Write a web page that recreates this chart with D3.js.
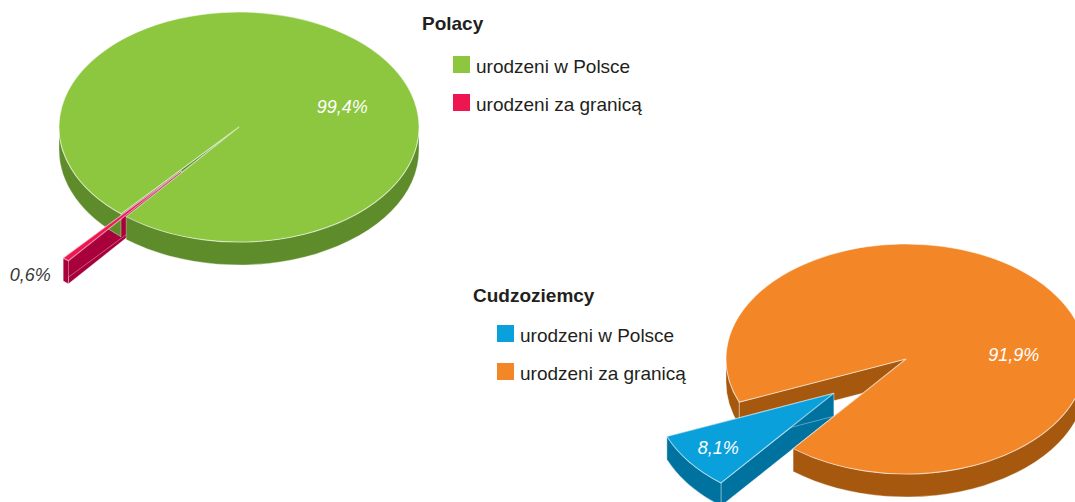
<!DOCTYPE html>
<html>
<head>
<meta charset="utf-8">
<script src="https://cdn.jsdelivr.net/npm/d3@7"></script>
<style>
  body { margin: 0; background: #fff; }
  svg { display: block; font-family: "Liberation Sans", Arial, sans-serif; }
</style>
</head>
<body>
<svg id="chart" width="1075" height="502"></svg>
<script>
// data
const categories = ["urodzeni w Polsce", "urodzeni za granicą"];
const groups = ["Polacy", "Cudzoziemcy"];
const polacyValues = [99.4, 0.6];
const cudzoziemcyValues = [8.1, 91.9];

// colours (top face / side face) per category
const polacyTop = ["#8DC63F", "#ED1651"];
const polacySide = ["#5E8C2B", "#A8003A"];
const cudzTop = ["#0AA0DC", "#F38626"];
const cudzSide = ["#00729F", "#A6580E"];

const RX = 180, RY = 115, DEPTH = 23, EXPLODE = 0.5;
const START = 218.8 * Math.PI / 180;

const locale = d3.formatLocale({decimal: ",", thousands: " ", grouping: [3], currency: ["", " zł"]});
const fmt = v => locale.format(".1f")(v) + "%";

const charts = [
  {title: groups[0], values: polacyValues, top: polacyTop, side: polacySide,
   center: [239, 127], legend: {tx: 422, ty: 30, sx: 453, sy: 56}},
  {title: groups[1], values: cudzoziemcyValues, top: cudzTop, side: cudzSide,
   center: [906, 359], legend: {tx: 473, ty: 302, sx: 497, sy: 325}}
];

const pie = d3.pie()
  .value(d => d.value)
  .sort((a, b) => d3.ascending(a.value, b.value))
  .startAngle(START)
  .endAngle(START + 2 * Math.PI);

// point on the ellipse rim, d3 angle convention (0 = 12 o'clock, clockwise)
function pt(o, t, f = 1) {
  return [o[0] + RX * f * Math.sin(t), o[1] - RY * f * Math.cos(t)];
}

function topPath(o, t0, t1) {
  const p0 = pt(o, t0), p1 = pt(o, t1);
  const large = (t1 - t0) > Math.PI ? 1 : 0;
  return `M${o}L${p0}A${RX},${RY} 0 ${large} 1 ${p1}Z`;
}

function facePath(o, t) {
  const p = pt(o, t);
  return `M${o}L${p}L${p[0]},${p[1] + DEPTH}L${o[0]},${o[1] + DEPTH}Z`;
}

// parts of an arc that face the viewer (lower half of the ellipse)
function frontRanges(t0, t1) {
  const out = [];
  for (let k = -1; k <= 2; k++) {
    const lo = Math.max(t0, Math.PI / 2 + 2 * Math.PI * k);
    const hi = Math.min(t1, 3 * Math.PI / 2 + 2 * Math.PI * k);
    if (hi > lo) out.push([lo, hi]);
  }
  return out;
}

function wallPath(o, t0, t1) {
  const p0 = pt(o, t0), p1 = pt(o, t1);
  const large = (t1 - t0) > Math.PI ? 1 : 0;
  return `M${p0}A${RX},${RY} 0 ${large} 1 ${p1}` +
    `L${p1[0]},${p1[1] + DEPTH}A${RX},${RY} 0 ${large} 0 ${p0[0]},${p0[1] + DEPTH}Z`;
}

const svg = d3.select("#chart");

charts.forEach(ch => {
  const data = categories.map((c, i) => ({category: c, value: ch.values[i], i: i}));
  const arcs = pie(data).map(a => {
    const mid = (a.startAngle + a.endAngle) / 2;
    const exploded = a.data.value < 50;
    return Object.assign(a, {mid: mid, exploded: exploded,
      o: exploded ? pt(ch.center, mid, EXPLODE) : ch.center});
  });
  const ordered = arcs.slice().sort((a, b) => a.exploded - b.exploded);
  const g = svg.append("g");

  // radial side faces
  ordered.forEach(a => {
    [a.startAngle, a.endAngle].forEach(t => {
      g.append("path").attr("d", facePath(a.o, t))
        .attr("fill", ch.side[a.data.i])
        .attr("stroke", "rgba(255,255,255,0.35)").attr("stroke-width", 1)
        .attr("stroke-linejoin", "round");
    });
  });

  // outer curved walls
  ordered.forEach(a => {
    frontRanges(a.startAngle, a.endAngle).forEach(r => {
      g.append("path").attr("d", wallPath(a.o, r[0], r[1]))
        .attr("fill", ch.side[a.data.i])
        .attr("stroke", "rgba(255,255,255,0.35)").attr("stroke-width", 1)
        .attr("stroke-linejoin", "round");
    });
  });

  // top faces
  ordered.forEach(a => {
    g.append("path").attr("d", topPath(a.o, a.startAngle, a.endAngle))
      .attr("fill", ch.top[a.data.i])
      .attr("stroke", "rgba(255,255,255,0.55)").attr("stroke-width", 1.1)
      .attr("stroke-linejoin", "round");
  });

  // value labels
  arcs.forEach(a => {
    const pct = a.endAngle - a.startAngle;
    let p, anchor = "middle", fill = "#fff";
    if (pct < 0.03 * 2 * Math.PI) {
      const r = pt(ch.center, a.mid, EXPLODE + 1);
      p = [r[0] - 15, r[1] + 22];
      anchor = "end";
      fill = "#3a3a3a";
    } else if (a.exploded) {
      const c = pt(a.o, a.mid, 0.8);
      p = [c[0], c[1] + 6];
    } else {
      const c = pt(a.o, a.mid + 33 * Math.PI / 180, 0.6);
      p = [c[0], c[1] + 6];
    }
    g.append("text")
      .attr("x", p[0]).attr("y", p[1])
      .attr("text-anchor", anchor)
      .attr("font-size", 18).attr("font-style", "italic")
      .attr("fill", fill)
      .text(fmt(a.data.value));
  });

  // legend
  const lg = svg.append("g");
  lg.append("text")
    .attr("x", ch.legend.tx).attr("y", ch.legend.ty)
    .attr("font-size", 19).attr("font-weight", "bold").attr("fill", "#231F20")
    .text(ch.title);
  categories.forEach((c, i) => {
    const y = ch.legend.sy + i * 38;
    lg.append("rect")
      .attr("x", ch.legend.sx).attr("y", y).attr("width", 17).attr("height", 17)
      .attr("fill", ch.top[i]);
    lg.append("text")
      .attr("x", ch.legend.sx + 23).attr("y", y + 16.5)
      .attr("font-size", 19).attr("fill", "#231F20")
      .text(c);
  });
});
</script>
</body>
</html>
